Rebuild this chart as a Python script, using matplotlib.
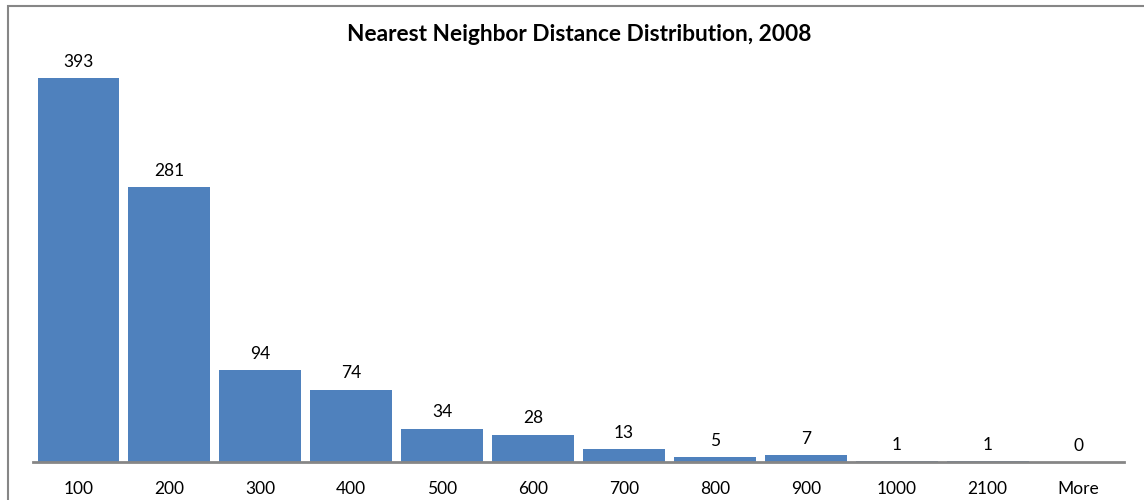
import matplotlib.pyplot as plt
from matplotlib.patches import Rectangle

categorias = ['100', '200', '300', '400', '500', '600', '700', '800', '900', '1000', '2100', 'More']
frecuencias = [393, 281, 94, 74, 34, 28, 13, 5, 7, 1, 1, 0]

plt.rcParams['font.family'] = ['Lato', 'DejaVu Sans']

fig = plt.figure(figsize=(11.44, 5.0), dpi=100)
W, H = 1144, 500

# chart border (Excel style), cut off at the right and bottom
fig.patches.append(Rectangle((8 / W, -0.1), 1.2, 1.1 - 6 / H, transform=fig.transFigure,
                             fill=False, edgecolor='#868686', linewidth=1.5))

ax = fig.add_axes([33 / W, 38 / H, 1091 / W, 391 / H])
x = range(len(categorias))
barras = ax.bar(x, frecuencias, width=0.9, color='#4F81BD')
ax.set_xlim(-0.5, len(categorias) - 0.5)
ax.set_ylim(0, 400)

for xi, v in zip(x, frecuencias):
    ax.annotate(str(v), (xi, v), xytext=(0, 6), textcoords='offset points',
                ha='center', va='bottom', fontsize=12.5, annotation_clip=False)

ax.set_xticks(list(x))
ax.set_xticklabels(categorias, fontsize=12.5)
ax.tick_params(axis='x', length=0, pad=14)
ax.set_yticks([])
for lado in ['top', 'right', 'left']:
    ax.spines[lado].set_visible(False)
ax.spines['bottom'].set_color('#868686')
ax.spines['bottom'].set_linewidth(2)

fig.text(579 / W, 1 - 34 / H, 'Nearest Neighbor Distance Distribution, 2008',
         ha='center', va='center', fontsize=16.3, fontweight='bold')

fig.savefig('out.png', dpi=100)
